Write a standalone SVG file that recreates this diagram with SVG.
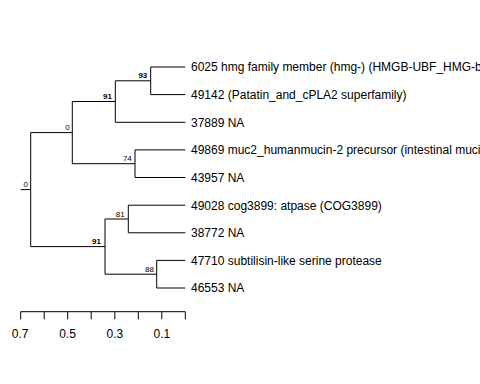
<svg xmlns="http://www.w3.org/2000/svg" width="480" height="384" viewBox="0 0 480 384">
<style>
.br{stroke:#000;stroke-width:1;fill:none}
.leaf{font-family:"Liberation Sans",Arial,sans-serif;font-size:12px;fill:#000}
.bs{font-family:"Liberation Sans",Arial,sans-serif;font-size:8px;fill:#000;text-anchor:end}
.b{font-weight:bold}
.ax{font-family:"Liberation Sans",Arial,sans-serif;font-size:12px;fill:#000;text-anchor:middle}
</style>
<rect width="480" height="384" fill="#fff"/>
<g id="connectors" class="br">
<path d="M20.7 189.6H30.7M30.7 132.6V246.6M30.7 132.6H72.3M30.7 246.6H105"/>
<path d="M72.3 101.5V163.7M72.3 101.5H115.3M72.3 163.7H135"/>
<path d="M115.3 80.8V122.3M115.3 80.8H150.7M115.3 122.3H185.3"/>
<path d="M150.7 67V94.6M150.7 67H185.3M150.7 94.6H185.3"/>
<path d="M135 149.9V177.5M135 149.9H185.3M135 177.5H185.3"/>
<path d="M105 219V274.2M105 219H128.3M105 274.2H156.7"/>
<path d="M128.3 205.2V232.8M128.3 205.2H185.3M128.3 232.8H185.3"/>
<path d="M156.7 260.4V288M156.7 260.4H185.3M156.7 288H185.3"/>
</g>
<g id="leaf-6025"><text class="leaf" x="191" y="71.3">6025 hmg family member (hmg-) (HMGB-UBF_HMG-box)</text></g>
<g id="leaf-49142"><text class="leaf" x="191" y="98.9">49142 (Patatin_and_cPLA2 superfamily)</text></g>
<g id="leaf-37889"><text class="leaf" x="191" y="126.6">37889 NA</text></g>
<g id="leaf-49869"><text class="leaf" x="191" y="154.2">49869 muc2_humanmucin-2 precursor (intestinal mucin 2)</text></g>
<g id="leaf-43957"><text class="leaf" x="191" y="181.8">43957 NA</text></g>
<g id="leaf-49028"><text class="leaf" x="191" y="209.5">49028 cog3899: atpase (COG3899)</text></g>
<g id="leaf-38772"><text class="leaf" x="191" y="237.1">38772 NA</text></g>
<g id="leaf-47710"><text class="leaf" x="191" y="264.7">47710 subtilisin-like serine protease</text></g>
<g id="leaf-46553"><text class="leaf" x="191" y="292.3">46553 NA</text></g>
<g id="node-root"><text class="bs" x="28" y="186.8">0</text></g>
<g id="node-0"><text class="bs" x="69.8" y="129.8">0</text></g>
<g id="node-91a"><text class="bs b" x="112" y="98.6">91</text></g>
<g id="node-93"><text class="bs b" x="147.3" y="77.8">93</text></g>
<g id="node-74"><text class="bs" x="131.8" y="161">74</text></g>
<g id="node-91b"><text class="bs b" x="101" y="243.5">91</text></g>
<g id="node-81"><text class="bs" x="124.7" y="216.5">81</text></g>
<g id="node-88"><text class="bs" x="154" y="271.5">88</text></g>
<g id="axis">
<path class="br" d="M20.7 311.7H185.3M20.7 311.7V319.3M44.2 311.7V319.3M67.7 311.7V319.3M91.2 311.7V319.3M114.8 311.7V319.3M138.3 311.7V319.3M161.8 311.7V319.3M185.3 311.7V319.3"/>
<text class="ax" x="20.2" y="338.3">0.7</text>
<text class="ax" x="67.5" y="338.3">0.5</text>
<text class="ax" x="114.8" y="338.3">0.3</text>
<text class="ax" x="161.8" y="338.3">0.1</text>
</g>
</svg>
